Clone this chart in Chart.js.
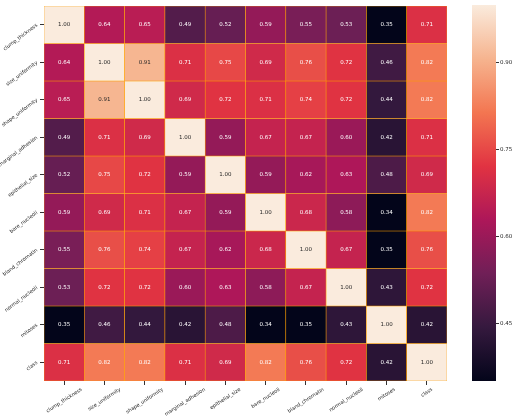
<!DOCTYPE html>
<html lang="en">
<head>
<meta charset="UTF-8">
<title>Correlation heatmap</title>
<script src="https://cdn.jsdelivr.net/npm/chart.js"></script>
<style>
    body { margin: 0; background: #fff; }
    .wrap { position: relative; width: 514px; height: 420px; }
    #heat { position: absolute; left: 0; top: 0; }
    #cbar { position: absolute; left: 462px; top: 0; }
</style>
</head>
<body>
<div class="wrap">
    <canvas id="heat" width="462" height="420"></canvas>
    <canvas id="cbar" width="52" height="420"></canvas>
</div>
<script>
    // feature names (rows and columns)
    const features = ['clump_thickness', 'size_uniformity', 'shape_uniformity', 'marginal_adhesion',
        'epithelial_size', 'bare_nucleoli', 'bland_chromatin', 'normal_nucleoli', 'mitoses', 'class'];

    // correlation rows
    const clumpThickness   = [1.00, 0.64, 0.65, 0.49, 0.52, 0.59, 0.55, 0.53, 0.35, 0.71];
    const sizeUniformity   = [0.64, 1.00, 0.91, 0.71, 0.75, 0.69, 0.76, 0.72, 0.46, 0.82];
    const shapeUniformity  = [0.65, 0.91, 1.00, 0.69, 0.72, 0.71, 0.74, 0.72, 0.44, 0.82];
    const marginalAdhesion = [0.49, 0.71, 0.69, 1.00, 0.59, 0.67, 0.67, 0.60, 0.42, 0.71];
    const epithelialSize   = [0.52, 0.75, 0.72, 0.59, 1.00, 0.59, 0.62, 0.63, 0.48, 0.69];
    const bareNucleoli     = [0.59, 0.69, 0.71, 0.67, 0.59, 1.00, 0.68, 0.58, 0.34, 0.82];
    const blandChromatin   = [0.55, 0.76, 0.74, 0.67, 0.62, 0.68, 1.00, 0.67, 0.35, 0.76];
    const normalNucleoli   = [0.53, 0.72, 0.72, 0.60, 0.63, 0.58, 0.67, 1.00, 0.43, 0.72];
    const mitoses          = [0.35, 0.46, 0.44, 0.42, 0.48, 0.34, 0.35, 0.43, 1.00, 0.42];
    const classCol         = [0.71, 0.82, 0.82, 0.71, 0.69, 0.82, 0.76, 0.72, 0.42, 1.00];

    const corr = [clumpThickness, sizeUniformity, shapeUniformity, marginalAdhesion, epithelialSize,
        bareNucleoli, blandChromatin, normalNucleoli, mitoses, classCol];

    // colour bar ticks
    const cbarTicks = [0.45, 0.60, 0.75, 0.90];
    const vmin = 0.35, vmax = 1.0;

    // rocket colormap (approx)
    const rocketStops = ['#03051a', '#35193e', '#701f57', '#ad1759', '#e13342', '#f37651', '#f6b48f', '#faebdd'];
    function hexRgb(h) {
        return [parseInt(h.slice(1, 3), 16), parseInt(h.slice(3, 5), 16), parseInt(h.slice(5, 7), 16)];
    }
    function rocket(v) {
        let t = (v - vmin) / (vmax - vmin);
        t = Math.max(0, Math.min(1, t));
        const p = t * (rocketStops.length - 1);
        const i = Math.min(Math.floor(p), rocketStops.length - 2);
        const f = p - i;
        const a = hexRgb(rocketStops[i]), b = hexRgb(rocketStops[i + 1]);
        const c = a.map((x, k) => Math.round(x + (b[k] - x) * f));
        return 'rgb(' + c.join(',') + ')';
    }

    const labelFont = { family: 'DejaVu Sans', size: 5 };
    const xAngle = 33 * Math.PI / 180;

    // write the value in each cell + centred, rotated x labels
    const annotate = {
        id: 'annotate',
        afterDatasetsDraw(chart) {
            const ctx = chart.ctx;
            ctx.save();
            ctx.font = '5.5px "DejaVu Sans"';
            ctx.textAlign = 'center';
            ctx.textBaseline = 'middle';
            chart.data.datasets.forEach((ds, i) => {
                chart.getDatasetMeta(i).data.forEach((el, j) => {
                    const v = corr[i][j];
                    const p = el.getCenterPoint();
                    ctx.fillStyle = v > 0.88 ? '#262626' : '#ffffff';
                    ctx.fillText(v.toFixed(2), p.x, p.y);
                });
            });
            ctx.restore();
        },
        afterDraw(chart) {
            const ctx = chart.ctx;
            const xs = chart.scales.x;
            const y0 = xs.top + 6;
            ctx.save();
            ctx.font = '5px "DejaVu Sans"';
            ctx.fillStyle = '#262626';
            ctx.textAlign = 'center';
            ctx.textBaseline = 'middle';
            features.forEach((f, i) => {
                const w = ctx.measureText(f).width;
                const half = (w * Math.sin(xAngle) + 5 * Math.cos(xAngle)) / 2;
                ctx.save();
                ctx.translate(xs.getPixelForTick(i), y0 + half);
                ctx.rotate(-xAngle);
                ctx.fillText(f, 0, 0);
                ctx.restore();
            });
            ctx.restore();
        }
    };

    new Chart(document.getElementById('heat'), {
        type: 'bar',
        data: {
            labels: features,
            datasets: corr.map((row, i) => ({
                label: features[i],
                data: features.map(() => 1),
                backgroundColor: ctx => rocket(row[ctx.dataIndex]),
                borderColor: '#ffa000',
                borderWidth: 0.6,
                borderSkipped: false,
                barPercentage: 1,
                categoryPercentage: 1
            }))
        },
        options: {
            responsive: false,
            animation: false,
            layout: { padding: { left: 0, right: 15, top: 5, bottom: 0 } },
            plugins: { legend: { display: false }, tooltip: { enabled: false } },
            scales: {
                x: {
                    stacked: true,
                    offset: true,
                    border: { display: false },
                    grid: { offset: false, drawOnChartArea: false, tickLength: 4, color: '#333' },
                    ticks: { display: false, autoSkip: false },
                    afterFit: s => { s.height = 39; }
                },
                y: {
                    stacked: true,
                    reverse: true,
                    min: 0,
                    max: 10,
                    border: { display: false },
                    grid: { drawOnChartArea: false, tickLength: 4, color: '#333' },
                    afterBuildTicks: s => { s.ticks = features.map((f, i) => ({ value: i + 0.5 })); },
                    ticks: {
                        autoSkip: false, minRotation: 37, maxRotation: 37, padding: 3,
                        font: labelFont, color: '#262626',
                        callback: (v, i) => features[i]
                    },
                    afterFit: s => { s.width = 44; }
                }
            }
        },
        plugins: [annotate]
    });

    // colour bar
    function cbarFill(ctx) {
        const area = ctx.chart.chartArea;
        if (!area) return rocketStops[0];
        const g = ctx.chart.ctx.createLinearGradient(0, area.bottom, 0, area.top);
        rocketStops.forEach((c, i) => g.addColorStop(i / (rocketStops.length - 1), c));
        return g;
    }

    new Chart(document.getElementById('cbar'), {
        type: 'bar',
        data: {
            labels: [''],
            datasets: [{
                data: [[vmin, vmax]],
                backgroundColor: cbarFill,
                borderWidth: 0,
                barPercentage: 1,
                categoryPercentage: 1
            }]
        },
        options: {
            responsive: false,
            animation: false,
            layout: { padding: { left: 10, right: 0, top: 5, bottom: 39 } },
            plugins: { legend: { display: false }, tooltip: { enabled: false } },
            scales: {
                x: { display: false },
                y: {
                    position: 'right',
                    min: vmin,
                    max: vmax,
                    border: { display: false },
                    grid: { drawOnChartArea: false, tickLength: 3, color: '#333' },
                    afterBuildTicks: s => { s.ticks = cbarTicks.map(v => ({ value: v })); },
                    ticks: { padding: 1, font: { family: 'DejaVu Sans', size: 5.5 }, color: '#262626', callback: v => v.toFixed(2) },
                    afterFit: s => { s.width = 18; }
                }
            }
        }
    });
</script>
</body>
</html>
